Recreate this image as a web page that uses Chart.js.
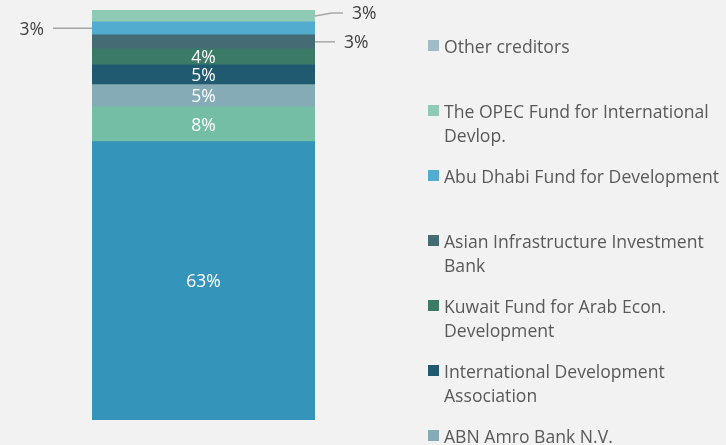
<!DOCTYPE html>
<html>
<head>
<meta charset="utf-8">
<script src="https://cdn.jsdelivr.net/npm/chart.js@4.4.1/dist/chart.umd.min.js"></script>
<style>
  html, body { margin: 0; padding: 0; background: #f2f2f2; }
  body { width: 726px; height: 445px; overflow: hidden; position: relative; font-family: "Open Sans", sans-serif; }
  #chartWrap { position: absolute; left: 0; top: 0; width: 726px; height: 445px; }
  #legend { position: absolute; left: 428px; top: 34px; }
  .legend-item { position: relative; height: 65px; padding-left: 16px; color: #595959; font-size: 17.6px; line-height: 24px; white-space: nowrap; }
  .legend-box { position: absolute; left: 0; top: 6px; width: 11px; height: 11px; }
</style>
</head>
<body>
<div id="chartWrap"><canvas id="debtChart"></canvas></div>
<div id="legend"></div>
<script>
// Creditors, bottom of the stack first (the two lowest ones fall outside the visible legend)
const creditors = [
  ["Largest creditor"],
  ["Second creditor"],
  ["ABN Amro Bank N.V."],
  ["International Development", "Association"],
  ["Kuwait Fund for Arab Econ.", "Development"],
  ["Asian Infrastructure Investment", "Bank"],
  ["Abu Dhabi Fund for Development"],
  ["The OPEC Fund for International", "Devlop."],
  ["Other creditors"]
];
// Share of total debt, %
const shares = [63, 7.9, 5, 4.5, 3.6, 3.2, 2.9, 2.7, 7.2];
const colors = ['#3594ba', '#75bea6', '#85abb6', '#1f5a70', '#3a7a66', '#456c74', '#52acd0', '#8fcab5', '#9fbdc6'];
const categories = ['Creditors'];
const axisMax = 92.8;

// small labels drawn outside the bar with a leader line
const outsideLabels = {
  5: { side: 'right', len: 20, rise: 0 },
  6: { side: 'left', len: 39, rise: 0 },
  7: { side: 'right', len: 28, rise: 3 }
};

const shareLabels = {
  id: 'shareLabels',
  afterDatasetsDraw(chart) {
    const ctx = chart.ctx;
    const area = chart.chartArea;
    ctx.save();
    ctx.font = '17.5px "Open Sans"';
    ctx.textBaseline = 'middle';
    chart.data.datasets.forEach((ds, i) => {
      const bar = chart.getDatasetMeta(i).data[0];
      const midY = (bar.y + bar.base) / 2;
      if (midY < area.top) return;
      const text = Math.round(ds.data[0]) + '%';
      const out = outsideLabels[i];
      if (!out) {
        ctx.fillStyle = '#ffffff';
        ctx.textAlign = 'center';
        ctx.fillText(text, bar.x, midY + 1.5);
        return;
      }
      const half = bar.width / 2;
      ctx.strokeStyle = '#a6a6a6';
      ctx.lineWidth = 1.5;
      ctx.beginPath();
      if (out.side === 'right') {
        const x0 = bar.x + half;
        ctx.moveTo(x0, midY);
        if (out.rise) {
          ctx.lineTo(x0 + 17, midY - out.rise);
        }
        ctx.lineTo(x0 + out.len, midY - out.rise);
        ctx.stroke();
        ctx.fillStyle = '#404040';
        ctx.textAlign = 'left';
        ctx.fillText(text, x0 + out.len + 9, midY - out.rise + 1.5);
      } else {
        const x0 = bar.x - half;
        ctx.moveTo(x0, midY);
        ctx.lineTo(x0 - out.len, midY);
        ctx.stroke();
        ctx.fillStyle = '#404040';
        ctx.textAlign = 'right';
        ctx.fillText(text, x0 - out.len - 9, midY + 1.5);
      }
    });
    ctx.restore();
  }
};

document.addEventListener('DOMContentLoaded', function() {
  const datasets = creditors.map((name, i) => ({
    label: name.join(' '),
    data: [shares[i]],
    backgroundColor: colors[i],
    borderWidth: 0,
    barPercentage: 1,
    categoryPercentage: 1,
    clip: 0
  }));

  const ctx = document.getElementById('debtChart').getContext('2d');
  new Chart(ctx, {
    type: 'bar',
    data: { labels: categories, datasets: datasets },
    options: {
      responsive: true,
      maintainAspectRatio: false,
      animation: false,
      layout: { padding: { left: 92, right: 411, top: 10, bottom: 25 } },
      plugins: {
        legend: { display: false },
        tooltip: { enabled: false }
      },
      scales: {
        x: { stacked: true, display: false },
        y: { stacked: true, display: false, min: 0, max: axisMax }
      }
    },
    plugins: [shareLabels]
  });

  // Legend, top of the stack first
  const legend = document.getElementById('legend');
  creditors.slice().reverse().forEach((name, k) => {
    const i = creditors.length - 1 - k;
    const item = document.createElement('div');
    item.className = 'legend-item';
    item.innerHTML = `<span class="legend-box" style="background:${colors[i]}"></span>${name.join('<br>')}`;
    legend.appendChild(item);
  });
});
</script>
</body>
</html>
